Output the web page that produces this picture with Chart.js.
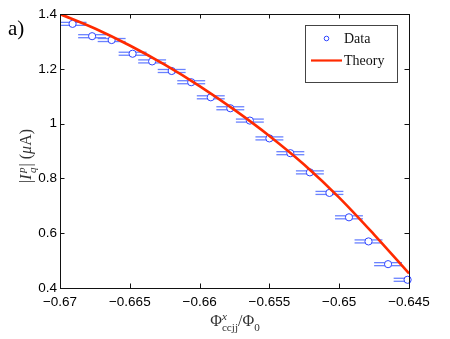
<!DOCTYPE html>
<html>
<head>
<meta charset="utf-8">
<script src="https://cdn.jsdelivr.net/npm/chart.js@4/dist/chart.umd.min.js"></script>
<style>
	html,body{margin:0;padding:0;background:#fff;}
	canvas{display:block;}
</style>
</head>
<body>
<canvas id="chartLine" width="450" height="339"></canvas>
<script>
// MEASURED POINTS
var dataX = [-0.6691,-0.6677,-0.6663,-0.6648,-0.6634,-0.6620,-0.6606,-0.6592,-0.6578,-0.6564,-0.6550,-0.6535,-0.6521,-0.6507,-0.6493,-0.6479,-0.6465,-0.6451];
var dataY = [1.364,1.319,1.305,1.255,1.227,1.192,1.151,1.096,1.056,1.011,0.946,0.892,0.822,0.747,0.658,0.570,0.487,0.430];
var errX = 0.001;
var errY = 0.0055;

// THEORY CURVE
var theoryX = [-0.670,-0.6675,-0.665,-0.6625,-0.660,-0.6575,-0.655,-0.6525,-0.650,-0.6475,-0.645];
var theoryY = [1.400,1.347,1.285,1.215,1.137,1.050,0.955,0.850,0.730,0.595,0.453];

// AXES
var xTicks = [-0.67,-0.665,-0.66,-0.655,-0.65,-0.645];
var yTicks = [0.4,0.6,0.8,1,1.2,1.4];
var seriesNames = ["Data","Theory"];
var panelLabel = "a)";

var blueMark = "#2f45ff";
var blueBar = "#6a82ff";
var redLine = "#ff2a00";
var serif = "'Liberation Serif','DejaVu Serif',serif";
var sans = "'Liberation Sans',Arial,sans-serif";

function toPoints(xs, ys){
	var out = [];
	for (var i = 0; i < xs.length; i++){
		out.push({x: xs[i], y: ys[i]});
	}
	return out;
}

//DRAW TEXT WITH SUB AND SUPER SCRIPTS, PART = [text, kind, italic, gapAfter]
//A "sub" RIGHT AFTER A "sup" IS STACKED UNDER IT
function layoutRich(ctx, parts, size, draw, x, y){
	var cx = x || 0, lastStart = 0, lastW = 0, prev = null;
	parts.forEach(function(p){
		var fs = p[1] === "n" ? size : size * 0.7;
		var dy = p[1] === "sup" ? -size * 0.4 : (p[1] === "sub" ? size * 0.3 : 0);
		ctx.font = (p[2] ? "italic " : "") + fs + "px " + serif;
		var w = ctx.measureText(p[0]).width;
		var sx = cx;
		if (p[1] === "sub" && prev === "sup"){
			sx = lastStart;
			cx = lastStart + Math.max(lastW, w);
		} else {
			cx += w;
		}
		if (draw){ ctx.fillText(p[0], sx, y + dy); }
		cx += p[3] || 0;
		lastStart = sx; lastW = w; prev = p[1];
	});
	return cx - (x || 0);
}

var framePlugin = {
	id: "frame",
	//ERROR BARS BEHIND THE MARKERS
	beforeDatasetsDraw: function(chart){
		var ctx = chart.ctx, xs = chart.scales.x, ys = chart.scales.y, a = chart.chartArea;
		ctx.save();
		ctx.beginPath();
		ctx.rect(a.left, a.top - 5, a.right - a.left, a.bottom - a.top + 10);
		ctx.clip();
		ctx.strokeStyle = blueBar;
		ctx.lineWidth = 1.3;
		for (var i = 0; i < dataX.length; i++){
			var x1 = xs.getPixelForValue(dataX[i] - errX);
			var x2 = xs.getPixelForValue(dataX[i] + errX);
			[dataY[i] - errY, dataY[i] + errY].forEach(function(v){
				var py = ys.getPixelForValue(v);
				ctx.beginPath();
				ctx.moveTo(x1, py);
				ctx.lineTo(x2, py);
				ctx.stroke();
			});
		}
		ctx.restore();
	},
	afterDraw: function(chart){
		var ctx = chart.ctx, xs = chart.scales.x, ys = chart.scales.y, a = chart.chartArea;
		ctx.save();
		//BOX AND INWARD TICKS
		ctx.strokeStyle = "#111";
		ctx.lineWidth = 1;
		ctx.strokeRect(Math.round(a.left) + 0.5, Math.round(a.top) + 0.5, Math.round(a.right - a.left), Math.round(a.bottom - a.top));
		var tl = 4.5;
		ctx.beginPath();
		xTicks.forEach(function(v){
			var px = Math.round(xs.getPixelForValue(v)) + 0.5;
			ctx.moveTo(px, a.bottom); ctx.lineTo(px, a.bottom - tl);
			ctx.moveTo(px, a.top); ctx.lineTo(px, a.top + tl);
		});
		yTicks.forEach(function(v){
			var py = Math.round(ys.getPixelForValue(v)) + 0.5;
			ctx.moveTo(a.left, py); ctx.lineTo(a.left + tl, py);
			ctx.moveTo(a.right, py); ctx.lineTo(a.right - tl, py);
		});
		ctx.stroke();

		//AXIS TITLES
		ctx.fillStyle = "#333";
		ctx.textBaseline = "alphabetic";
		var xt = [["Φ","n",false],["x","sup",true],["ccjj","sub",false],["/Φ","n",false],["0","sub",false]];
		var w = layoutRich(ctx, xt, 16, false);
		layoutRich(ctx, xt, 16, true, 235 - w / 2, 326);

		var yt = [["|","n",false],["I","n",true,1.5],["p","sup",true],["q","sub",true,1],["| (","n",false],["μ","n",true],["A)","n",false]];
		ctx.save();
		ctx.translate(31, 156);
		ctx.rotate(-Math.PI / 2);
		var w2 = layoutRich(ctx, yt, 16, false);
		layoutRich(ctx, yt, 16, true, -w2 / 2, 0);
		ctx.restore();

		//PANEL LABEL
		ctx.fillStyle = "#000";
		ctx.font = "21px " + serif;
		ctx.fillText(panelLabel, 8, 35);

		//LEGEND
		var lx = 305, ly = 25, lw = 92, lh = 57;
		ctx.fillStyle = "#fff";
		ctx.fillRect(lx, ly, lw, lh);
		ctx.strokeStyle = "#444";
		ctx.strokeRect(lx + 0.5, ly + 0.5, lw, lh);
		ctx.strokeStyle = blueMark;
		ctx.lineWidth = 1;
		ctx.beginPath();
		ctx.arc(326.5, 38.5, 2.3, 0, Math.PI * 2);
		ctx.stroke();
		ctx.strokeStyle = redLine;
		ctx.lineWidth = 2.2;
		ctx.beginPath();
		ctx.moveTo(311, 60.5);
		ctx.lineTo(342, 60.5);
		ctx.stroke();
		ctx.fillStyle = "#111";
		ctx.font = "14px " + serif;
		ctx.textBaseline = "middle";
		ctx.fillText(seriesNames[0], 344, 39);
		ctx.fillText(seriesNames[1], 344, 61);
		ctx.restore();
	}
};

function fmt(v, d){
	return Number(v.toFixed(d)).toString().replace("-", "\u2212");
}

var ctx = document.getElementById("chartLine");
var myLineChart = new Chart(ctx, {
	type: "scatter",
	data: {
		datasets: [
			{
				label: seriesNames[1],
				data: toPoints(theoryX, theoryY),
				showLine: true,
				borderColor: redLine,
				borderWidth: 2.6,
				pointRadius: 0,
				cubicInterpolationMode: "monotone",
				order: 0
			},
			{
				label: seriesNames[0],
				data: toPoints(dataX, dataY),
				showLine: false,
				pointStyle: "circle",
				pointRadius: 3.6,
				borderWidth: 1,
				borderColor: blueMark,
				backgroundColor: "#fff",
				clip: false,
				order: 1
			}
		]
	},
	options: {
		responsive: false,
		animation: false,
		devicePixelRatio: 1,
		layout: {padding: {top: 14, right: 41, left: 0, bottom: 0}},
		plugins: {legend: {display: false}, tooltip: {enabled: false}},
		scales: {
			x: {
				type: "linear",
				min: -0.67,
				max: -0.645,
				grid: {display: false, drawTicks: false},
				border: {display: false},
				afterBuildTicks: function(s){ s.ticks = xTicks.map(function(v){ return {value: v}; }); },
				afterFit: function(s){ s.height = 51; },
				ticks: {
					padding: 6,
					color: "#000",
					font: {family: sans, size: 13.5},
					maxRotation: 0,
					callback: function(v){ return fmt(v, 3); }
				}
			},
			y: {
				min: 0.4,
				max: 1.4,
				grid: {display: false, drawTicks: false},
				border: {display: false},
				afterBuildTicks: function(s){ s.ticks = yTicks.map(function(v){ return {value: v}; }); },
				afterFit: function(s){ s.width = 60; },
				ticks: {
					padding: 3,
					color: "#000",
					font: {family: sans, size: 13.5},
					callback: function(v){ return fmt(v, 1); }
				}
			}
		}
	},
	plugins: [framePlugin]
});
</script>
</body>
</html>
